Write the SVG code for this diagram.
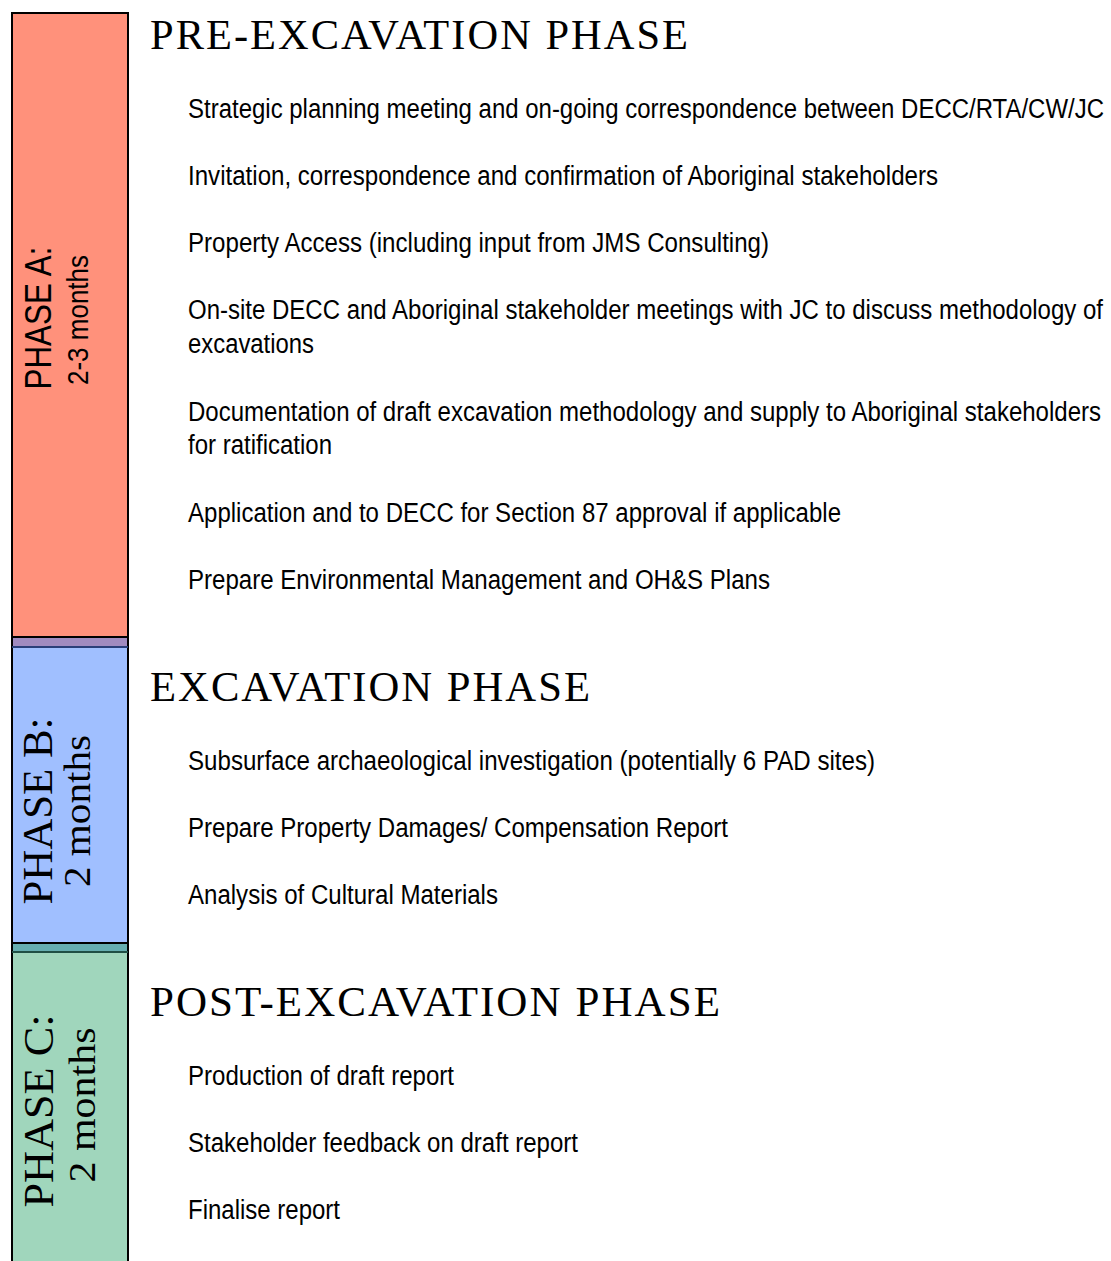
<svg xmlns="http://www.w3.org/2000/svg" width="1111" height="1261" viewBox="0 0 1111 1261">
<style>
.h{font-family:"Liberation Serif","Times New Roman",serif;font-size:42px;fill:#000;letter-spacing:2px}
.t{font-family:"Liberation Sans Narrow","Liberation Sans",Arial,sans-serif;font-size:27px;fill:#000}
.va{font-family:"Liberation Sans Narrow","Liberation Sans",Arial,sans-serif;fill:#000}
.vs{font-family:"Liberation Serif","Times New Roman",serif;fill:#000}
</style>
<rect width="1111" height="1261" fill="#fff"/>
<g id="phaseA">
<rect x="12" y="13" width="116" height="624" fill="#ff917b" stroke="#000" stroke-width="2"/>
<text class="va" font-size="37" transform="translate(51,318) rotate(-90)" text-anchor="middle" textLength="143" lengthAdjust="spacingAndGlyphs">PHASE A:</text>
<text class="va" font-size="30" transform="translate(88,320) rotate(-90)" text-anchor="middle" textLength="130" lengthAdjust="spacingAndGlyphs">2-3 months</text>
</g>
<g id="overlapAB">
<rect x="12" y="637" width="116" height="10" fill="#a08bc0" stroke="#000" stroke-width="2"/>
</g>
<g id="phaseB">
<rect x="12" y="647" width="116" height="296" fill="#a0bfff" stroke="#000" stroke-width="2"/>
<line x1="12" y1="647" x2="128" y2="647" stroke="#2a3f7a" stroke-width="2"/>
<text class="vs" font-size="42" transform="translate(52,811) rotate(-90)" text-anchor="middle" textLength="187" lengthAdjust="spacingAndGlyphs">PHASE B:</text>
<text class="vs" font-size="38" transform="translate(90,811) rotate(-90)" text-anchor="middle" textLength="152" lengthAdjust="spacingAndGlyphs">2 months</text>
</g>
<g id="overlapBC">
<rect x="12" y="943" width="116" height="9" fill="#66aeb0" stroke="#000" stroke-width="2"/>
</g>
<g id="phaseC">
<rect x="12" y="952" width="116" height="312" fill="#a0d6bc" stroke="#000" stroke-width="2"/>
<line x1="12" y1="952" x2="128" y2="952" stroke="#1f4f44" stroke-width="2"/>
<text class="vs" font-size="42" transform="translate(53,1111) rotate(-90)" text-anchor="middle" textLength="193" lengthAdjust="spacingAndGlyphs">PHASE C:</text>
<text class="vs" font-size="38" transform="translate(95,1105) rotate(-90)" text-anchor="middle" textLength="155" lengthAdjust="spacingAndGlyphs">2 months</text>
</g>
<g id="preExcavation">
<text class="h" x="150" y="49" textLength="540" lengthAdjust="spacingAndGlyphs">PRE-EXCAVATION PHASE</text>
<text class="t" x="188" y="118" textLength="916" lengthAdjust="spacingAndGlyphs">Strategic planning meeting and on-going correspondence between DECC/RTA/CW/JC</text>
<text class="t" x="188" y="185" textLength="750" lengthAdjust="spacingAndGlyphs">Invitation, correspondence and confirmation of Aboriginal stakeholders</text>
<text class="t" x="188" y="252" textLength="581" lengthAdjust="spacingAndGlyphs">Property Access (including input from JMS Consulting)</text>
<text class="t" x="188" y="319" textLength="915" lengthAdjust="spacingAndGlyphs">On-site DECC and Aboriginal stakeholder meetings with JC to discuss methodology of</text>
<text class="t" x="188" y="353" textLength="126" lengthAdjust="spacingAndGlyphs">excavations</text>
<text class="t" x="188" y="421" textLength="913" lengthAdjust="spacingAndGlyphs">Documentation of draft excavation methodology and supply to Aboriginal stakeholders</text>
<text class="t" x="188" y="454" textLength="144" lengthAdjust="spacingAndGlyphs">for ratification</text>
<text class="t" x="188" y="522" textLength="653" lengthAdjust="spacingAndGlyphs">Application and to DECC for Section 87 approval if applicable</text>
<text class="t" x="188" y="589" textLength="582" lengthAdjust="spacingAndGlyphs">Prepare Environmental Management and OH&amp;S Plans</text>
</g>
<g id="excavation">
<text class="h" x="150" y="701" textLength="442" lengthAdjust="spacingAndGlyphs">EXCAVATION PHASE</text>
<text class="t" x="188" y="770" textLength="687" lengthAdjust="spacingAndGlyphs">Subsurface archaeological investigation (potentially 6 PAD sites)</text>
<text class="t" x="188" y="837" textLength="540" lengthAdjust="spacingAndGlyphs">Prepare Property Damages/ Compensation Report</text>
<text class="t" x="188" y="904" textLength="310" lengthAdjust="spacingAndGlyphs">Analysis of Cultural Materials</text>
</g>
<g id="postExcavation">
<text class="h" x="150" y="1016" textLength="572" lengthAdjust="spacingAndGlyphs">POST-EXCAVATION PHASE</text>
<text class="t" x="188" y="1085" textLength="266" lengthAdjust="spacingAndGlyphs">Production of draft report</text>
<text class="t" x="188" y="1152" textLength="390" lengthAdjust="spacingAndGlyphs">Stakeholder feedback on draft report</text>
<text class="t" x="188" y="1219" textLength="152" lengthAdjust="spacingAndGlyphs">Finalise report</text>
</g>
<g id="connectors"></g>
</svg>
